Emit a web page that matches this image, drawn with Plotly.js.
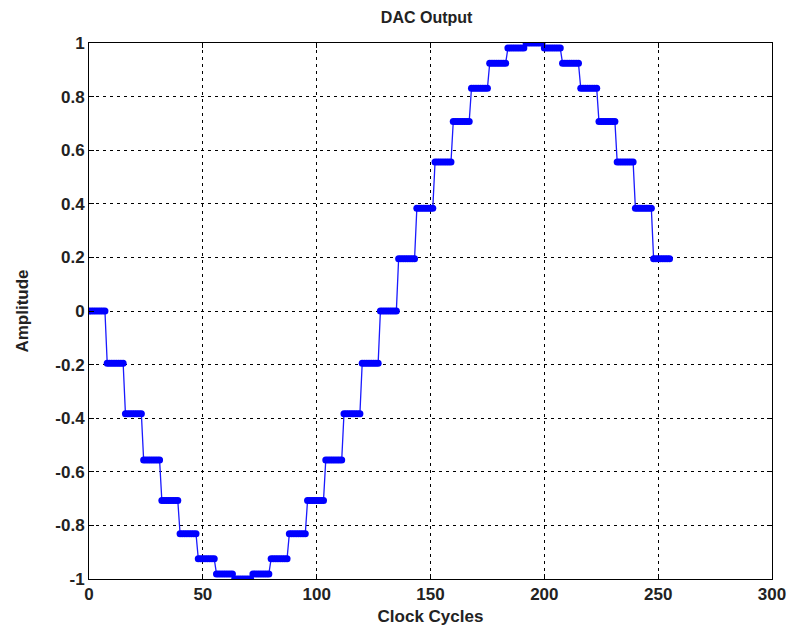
<!DOCTYPE html>
<html>
<head>
<meta charset="utf-8">
<script src="https://cdn.plot.ly/plotly-3.0.1.min.js"></script>
<style>html,body{margin:0;padding:0;background:#fff;}#chart{width:790px;height:637px;}</style>
</head>
<body>
<div id="chart"></div>
<script>
// DAC output levels, one per step
var levels = [0, -0.195, -0.383, -0.556, -0.707, -0.831, -0.924, -0.981,
              -1.0, -0.981, -0.924, -0.831, -0.707, -0.556, -0.383, -0.195,
              0, 0.195, 0.383, 0.556, 0.707, 0.831, 0.924, 0.981,
              1.0, 0.981, 0.924, 0.831, 0.707, 0.556, 0.383, 0.195];
// each level is held for this many clock cycles
var cyclesPerLevel = 8;
var xTicks = [0, 50, 100, 150, 200, 250, 300];
var yTicks = [-1, -0.8, -0.6, -0.4, -0.2, 0, 0.2, 0.4, 0.6, 0.8, 1];
var yTickText = ['-1', '-0.8', '-0.6', '-0.4', '-0.2', '0', '0.2', '0.4', '0.6', '0.8', '1'];

var xs = [], ys = [];
for (var i = 0; i < levels.length; i++) {
  for (var k = 0; k < cyclesPerLevel; k++) {
    xs.push(i * cyclesPerLevel + k);
    ys.push(levels[i]);
  }
}

var font = {family: 'Liberation Sans Narrow, Liberation Sans, Arial, sans-serif', color: '#222', weight: 'bold'};

var trace = {
  x: xs, y: ys, type: 'scatter', mode: 'lines+markers',
  line: {color: '#1a1aff', width: 1.3},
  marker: {color: '#0000ff', size: 7, symbol: 'circle'},
  hoverinfo: 'x+y'
};

var axisCommon = {
  showline: true, linecolor: '#000', linewidth: 1, mirror: 'ticks',
  ticks: 'inside', ticklen: 5, tickcolor: '#000',
  showgrid: true, gridcolor: '#000', gridwidth: 1, griddash: '3px,4px',
  zeroline: false,
  tickfont: Object.assign({size: 17}, font)
};

var layout = {
  width: 790, height: 637,
  margin: {l: 89, r: 18, t: 43, b: 58},
  paper_bgcolor: '#fff', plot_bgcolor: '#fff',
  showlegend: false,
  title: {text: 'DAC Output', font: Object.assign({size: 16}, font), x: 0.54, xanchor: 'center', y: 0.972, yanchor: 'middle'},
  xaxis: Object.assign({}, axisCommon, {
    range: [0, 300], tickvals: xTicks, ticktext: xTicks.map(String),
    title: {text: 'Clock Cycles', font: Object.assign({size: 17}, font), standoff: 6}
  }),
  yaxis: Object.assign({}, axisCommon, {
    range: [-1, 1], tickvals: yTicks, ticktext: yTickText,
    title: {text: 'Amplitude', font: Object.assign({size: 17}, font), standoff: 22}
  })
};

Plotly.newPlot('chart', [trace], layout, {displayModeBar: false, staticPlot: true});
</script>
</body>
</html>
